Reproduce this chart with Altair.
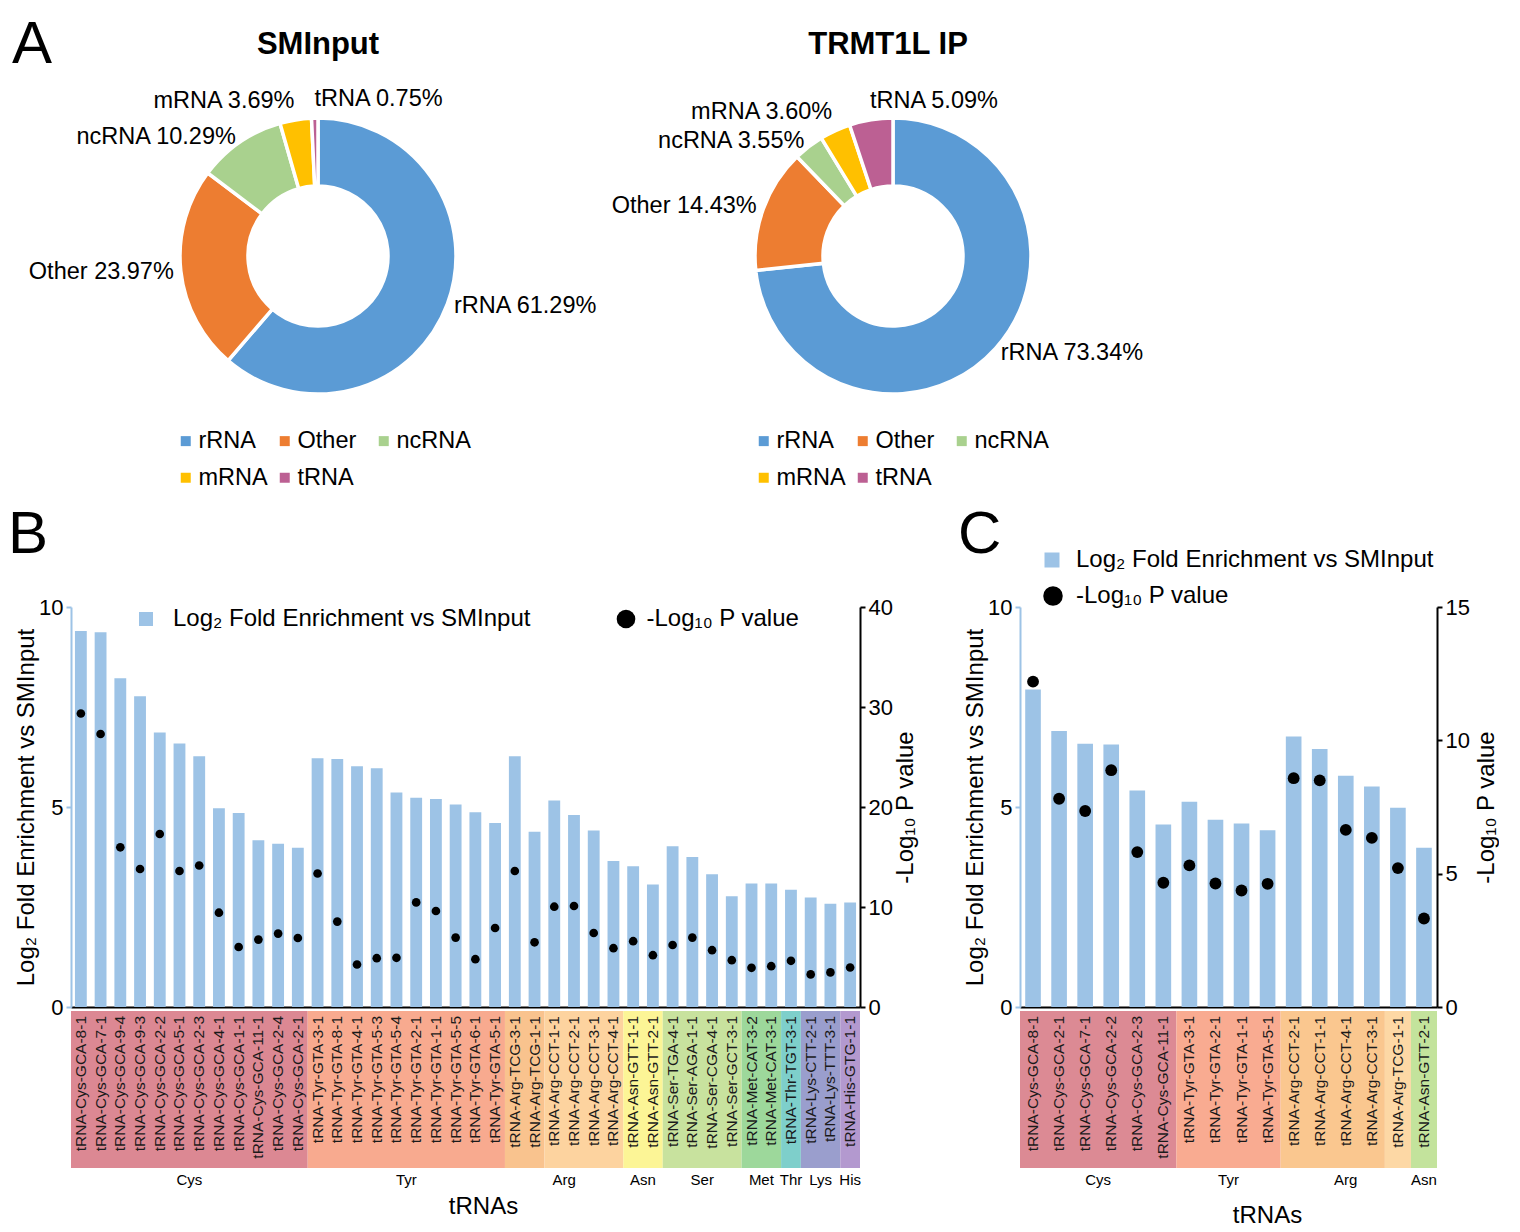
import altair as alt
import pandas as pd

FONT = "Liberation Sans"
BAR = "#9DC3E6"

# ---------------- Panel A data ----------------
pie_types = ["rRNA", "Other", "ncRNA", "mRNA", "tRNA"]
pie_colors = ["#5B9BD5", "#ED7D31", "#A9D18E", "#FFC000", "#BC6093"]
sminput_pct = [61.29, 23.97, 10.29, 3.69, 0.75]
trmt1l_pct = [73.34, 14.43, 3.55, 3.60, 5.09]

# ---------------- Panel B data ----------------
names_b = [
    "tRNA-Cys-GCA-8-1", "tRNA-Cys-GCA-7-1", "tRNA-Cys-GCA-9-4", "tRNA-Cys-GCA-9-3",
    "tRNA-Cys-GCA-2-2", "tRNA-Cys-GCA-5-1", "tRNA-Cys-GCA-2-3", "tRNA-Cys-GCA-4-1",
    "tRNA-Cys-GCA-1-1", "tRNA-Cys-GCA-11-1", "tRNA-Cys-GCA-2-4", "tRNA-Cys-GCA-2-1",
    "tRNA-Tyr-GTA-3-1", "tRNA-Tyr-GTA-8-1", "tRNA-Tyr-GTA-4-1", "tRNA-Tyr-GTA-5-3",
    "tRNA-Tyr-GTA-5-4", "tRNA-Tyr-GTA-2-1", "tRNA-Tyr-GTA-1-1", "tRNA-Tyr-GTA-5-5",
    "tRNA-Tyr-GTA-6-1", "tRNA-Tyr-GTA-5-1",
    "tRNA-Arg-TCG-3-1", "tRNA-Arg-TCG-1-1", "tRNA-Arg-CCT-1-1", "tRNA-Arg-CCT-2-1",
    "tRNA-Arg-CCT-3-1", "tRNA-Arg-CCT-4-1",
    "tRNA-Asn-GTT-1-1", "tRNA-Asn-GTT-2-1",
    "tRNA-Ser-TGA-4-1", "tRNA-Ser-AGA-1-1", "tRNA-Ser-CGA-4-1", "tRNA-Ser-GCT-3-1",
    "tRNA-Met-CAT-3-2", "tRNA-Met-CAT-3-1", "tRNA-Thr-TGT-3-1",
    "tRNA-Lys-CTT-2-1", "tRNA-Lys-TTT-3-1", "tRNA-His-GTG-1-1",
]
fe_b = [9.40, 9.37, 8.22, 7.77, 6.86, 6.59, 6.27, 4.97, 4.85, 4.17, 4.08, 3.98,
        6.22, 6.20, 6.02, 5.97, 5.36, 5.23, 5.20, 5.06, 4.87, 4.60,
        6.27, 4.38, 5.16, 4.80, 4.41, 3.65,
        3.52, 3.06,
        4.02, 3.75, 3.32, 2.77,
        3.09, 3.09, 2.93,
        2.74, 2.58, 2.61]
p_b = [29.35, 27.3, 15.97, 13.8, 17.3, 13.6, 14.15, 9.43, 6.0, 6.74, 7.34, 6.9,
       13.35, 8.54, 4.25, 4.88, 4.92, 10.46, 9.6, 6.94, 4.78, 7.9,
       13.6, 6.47, 10.03, 10.1, 7.4, 5.88,
       6.58, 5.18,
       6.2, 6.94, 5.68, 4.68,
       3.92, 4.08, 4.62,
       3.26, 3.46, 3.95]
band_colors_b = {
    "Cys": "#DC8893", "Tyr": "#F8AA8F", "Arg-TCG": "#F9C38E", "Arg-CCT": "#FDD39F",
    "Asn": "#FCF596", "Ser": "#C8E29E", "Met": "#9DD89B", "Thr": "#7ECFCB",
    "Lys": "#9A9ECD", "His": "#B399CF",
}

# ---------------- Panel C data ----------------
names_c = [
    "tRNA-Cys-GCA-8-1", "tRNA-Cys-GCA-2-1", "tRNA-Cys-GCA-7-1", "tRNA-Cys-GCA-2-2",
    "tRNA-Cys-GCA-2-3", "tRNA-Cys-GCA-11-1",
    "tRNA-Tyr-GTA-3-1", "tRNA-Tyr-GTA-2-1", "tRNA-Tyr-GTA-1-1", "tRNA-Tyr-GTA-5-1",
    "tRNA-Arg-CCT-2-1", "tRNA-Arg-CCT-1-1", "tRNA-Arg-CCT-4-1", "tRNA-Arg-CCT-3-1",
    "tRNA-Arg-TCG-1-1", "tRNA-Asn-GTT-2-1",
]
fe_c = [7.94, 6.90, 6.58, 6.56, 5.41, 4.56, 5.13, 4.68, 4.59, 4.42,
        6.76, 6.45, 5.78, 5.51, 4.98, 3.98]
p_c = [12.2, 7.81, 7.35, 8.88, 5.81, 4.66, 5.31, 4.63, 4.37, 4.62,
       8.58, 8.50, 6.64, 6.34, 5.21, 3.32]
band_colors_c = {
    "Cys": "#DC8A94", "Tyr": "#F9AB91", "Arg-CCT": "#FAC78F", "Arg-TCG": "#FDD8A5",
    "Asn": "#C3E39C",
}

FE_TITLE = "Log\u2082 Fold Enrichment vs SMInput"
P_TITLE = "-Log\u2081\u2080 P value"


def text_chart(t, x, y, size, weight="normal", align="left"):
    return alt.Chart(pd.DataFrame({"t": [t]})).mark_text(
        fontSize=size, fontWeight=weight, align=align, baseline="alphabetic", color="black"
    ).encode(x=alt.value(x), y=alt.value(y), text="t:N")


def make_pie(vals, title, width, height, legend_x, legend_y, title_dx=0, letter=None,
             letter_x=0):
    total = sum(vals)
    df = pd.DataFrame({"type": pie_types, "value": vals, "order": list(range(len(vals)))})
    base = alt.Chart(df)
    tscale = alt.Scale(domain=[0, total])
    arc = base.mark_arc(innerRadius=70, outerRadius=138, stroke="white", strokeWidth=3.5).encode(
        theta=alt.Theta("value:Q", stack=True, scale=tscale),
        color=alt.Color(
            "type:N",
            scale=alt.Scale(domain=pie_types, range=pie_colors),
            sort=pie_types,
            legend=alt.Legend(
                orient="none", legendX=legend_x, legendY=legend_y, columns=3, title=None,
                direction="horizontal", symbolType="square", symbolSize=100,
                symbolStrokeWidth=0, labelFontSize=23.5, labelOffset=1, columnPadding=0,
                rowPadding=12, gridAlign="all", padding=0, labelColor="black", labelLimit=0,
            ),
        ),
        order=alt.Order("order:Q"),
    )
    lab = base.transform_window(
        cum="sum(value)", sort=[alt.SortField("order")]
    ).transform_calculate(
        mid="datum.cum - datum.value / 2",
        label="datum.type + ' ' + format(datum.value, '.2f') + '%'",
    ).transform_calculate(
        right=f"datum.mid < {total / 2} || datum.type == 'tRNA'",
        top=f"datum.mid > {total * 11 / 12} || datum.mid < {total / 12}",
    )
    layers = [arc]
    for is_right in (True, False):
        for is_top in (True, False):
            cond = ("datum.right" if is_right else "!datum.right") + " && " + \
                   ("datum.top" if is_top else "!datum.top")
            layers.append(
                lab.transform_filter(cond).mark_text(
                    radius=145, align="left" if is_right else "right",
                    baseline="bottom" if is_top else "middle", fontSize=23.5, color="black"
                ).encode(theta=alt.Theta("mid:Q", stack=False, scale=tscale), text="label:N")
            )
    layers.append(text_chart(title, width / 2 + title_dx, -28, 31, "bold", "center"))
    if letter:
        layers.append(text_chart(letter, letter_x, -19, 60))
    return alt.layer(*layers).properties(width=width, height=height)


def make_panel(names, fe, pv, p_max, p_values, band_colors, width, height, letter,
               letter_dx, bar_leg, dot_leg, sq_size, dot_size, leg_dot_size,
               title_x, title_pad, left_title_pad, right_title_pad):
    n = len(names)
    groups = [nm.split("-")[1] for nm in names]
    keys = [g + ("-" + nm.split("-")[2] if g == "Arg" else "") for nm, g in zip(names, groups)]
    df = pd.DataFrame({"name": names, "fe": fe, "p": pv, "group": groups, "key": keys,
                       "idx": list(range(n))})
    segs = []
    start = 0
    for i in range(1, n + 1):
        if i == n or keys[i] != keys[start]:
            segs.append({"key": keys[start], "start": start, "end": i})
            start = i
    segdf = pd.DataFrame(segs)
    seg_keys = list(dict.fromkeys(segdf["key"]))

    xscale = alt.Scale(paddingInner=0.4, paddingOuter=0.2)
    bars = alt.Chart(df).transform_calculate(s1=f"'{FE_TITLE}'").mark_bar().encode(
        x=alt.X("name:N", sort=names, scale=xscale,
                axis=alt.Axis(labels=False, ticks=False, title="tRNAs", titleFontSize=24,
                              titleFontWeight="normal", titlePadding=title_pad, titleX=title_x,
                              domainColor="black", domainWidth=2)),
        y=alt.Y("fe:Q", scale=alt.Scale(domain=[0, 10]),
                axis=alt.Axis(values=[0, 5, 10], title=FE_TITLE, titleFontSize=24,
                              titleFontWeight="normal", labelFontSize=22, domainColor=BAR,
                              tickColor=BAR, domainWidth=2, tickWidth=2, tickSize=5,
                              labelPadding=3, titlePadding=left_title_pad)),
        color=alt.Color("s1:N", scale=alt.Scale(range=[BAR]),
                        legend=alt.Legend(orient="none", legendX=bar_leg[0], legendY=bar_leg[1],
                                          title=None, symbolType="square", symbolSize=sq_size,
                                          symbolStrokeWidth=0, labelFontSize=24,
                                          labelOffset=bar_leg[2], padding=0, labelColor="black",
                                          labelLimit=0)),
    )
    pts = alt.Chart(df).transform_calculate(s2=f"'{P_TITLE}'").mark_point(
        filled=True, color="black", size=dot_size, opacity=1
    ).encode(
        x=alt.X("name:N", sort=names, scale=xscale, axis=None),
        y=alt.Y("p:Q", scale=alt.Scale(domain=[0, p_max]),
                axis=alt.Axis(orient="right", values=p_values, title=P_TITLE, titleFontSize=24,
                              titleFontWeight="normal", labelFontSize=22, domainColor="black",
                              tickColor="black", domainWidth=2, tickWidth=2, tickSize=5,
                              labelPadding=3, titlePadding=right_title_pad, titleAngle=270,
                              titleBaseline="top")),
        shape=alt.Shape("s2:N", scale=alt.Scale(range=["circle"]),
                        legend=alt.Legend(orient="none", legendX=dot_leg[0], legendY=dot_leg[1],
                                          title=None, symbolSize=leg_dot_size,
                                          symbolFillColor="black", symbolStrokeColor="black",
                                          symbolOpacity=1, labelFontSize=24,
                                          labelOffset=dot_leg[2], padding=0, labelColor="black",
                                          labelLimit=0)),
    )
    qx = alt.Scale(domain=[0, n])
    bands = alt.Chart(segdf).mark_rect().encode(
        x=alt.X("start:Q", scale=qx, axis=None),
        x2="end:Q",
        y=alt.value(height + 4),
        y2=alt.value(height + 161),
        color=alt.Color("key:N", scale=alt.Scale(domain=seg_keys,
                                                 range=[band_colors[k] for k in seg_keys]),
                        legend=None),
    )
    names_txt = alt.Chart(df).transform_calculate(mid="datum.idx + 0.5").mark_text(
        angle=270, align="right", baseline="middle", fontSize=15.5, color="#1a1a1a"
    ).encode(x=alt.X("mid:Q", scale=qx, axis=None), y=alt.value(height + 9), text="name:N")
    grp_txt = alt.Chart(df).transform_calculate(mid="datum.idx + 0.5").transform_aggregate(
        c="mean(mid)", groupby=["group"]
    ).mark_text(fontSize=15, baseline="middle", color="black").encode(
        x=alt.X("c:Q", scale=qx, axis=None), y=alt.value(height + 173), text="group:N")
    let = text_chart(letter, letter_dx, -54, 60)
    return alt.layer(bands, names_txt, grp_txt, bars, pts, let).resolve_scale(
        x="independent", y="independent", color="independent", shape="independent"
    ).properties(width=width, height=height)


pie1 = make_pie(sminput_pct, "SMInput", 494, 348, 103, 347, letter="A", letter_x=-59)
pie2 = make_pie(trmt1l_pct, "TRMT1L IP", 590, 348, 154, 347, title_dx=-5)

panel_b = make_panel(names_b, fe_b, p_b, 40, [0, 10, 20, 30, 40], band_colors_b, 789, 400,
                     "B", -63, (63, 0, 15), (543, 0, 8.5), 196, 75, 346,
                     412, 187, 0, 1)
panel_c = make_panel(names_c, fe_c, p_c, 15, [0, 5, 10, 15], band_colors_c, 417, 400,
                     "C", -62, (20, -59, 12), (21, -23, 11), 225, 140, 380,
                     247, 196, 0, 5)

top = alt.hconcat(pie1, pie2, spacing=0).resolve_scale(color="independent")
bottom = alt.hconcat(panel_b, panel_c, spacing=40).resolve_scale(
    color="independent", shape="independent")
chart = alt.vconcat(
    top, bottom, spacing=15,
    padding={"top": 7, "left": 0, "right": 0, "bottom": 0},
).configure(font=FONT).configure_view(
    stroke=None
).configure_axis(grid=False, labelColor="black", titleColor="black")

chart.save("out.html", embed_options={"renderer": "svg", "actions": False})
